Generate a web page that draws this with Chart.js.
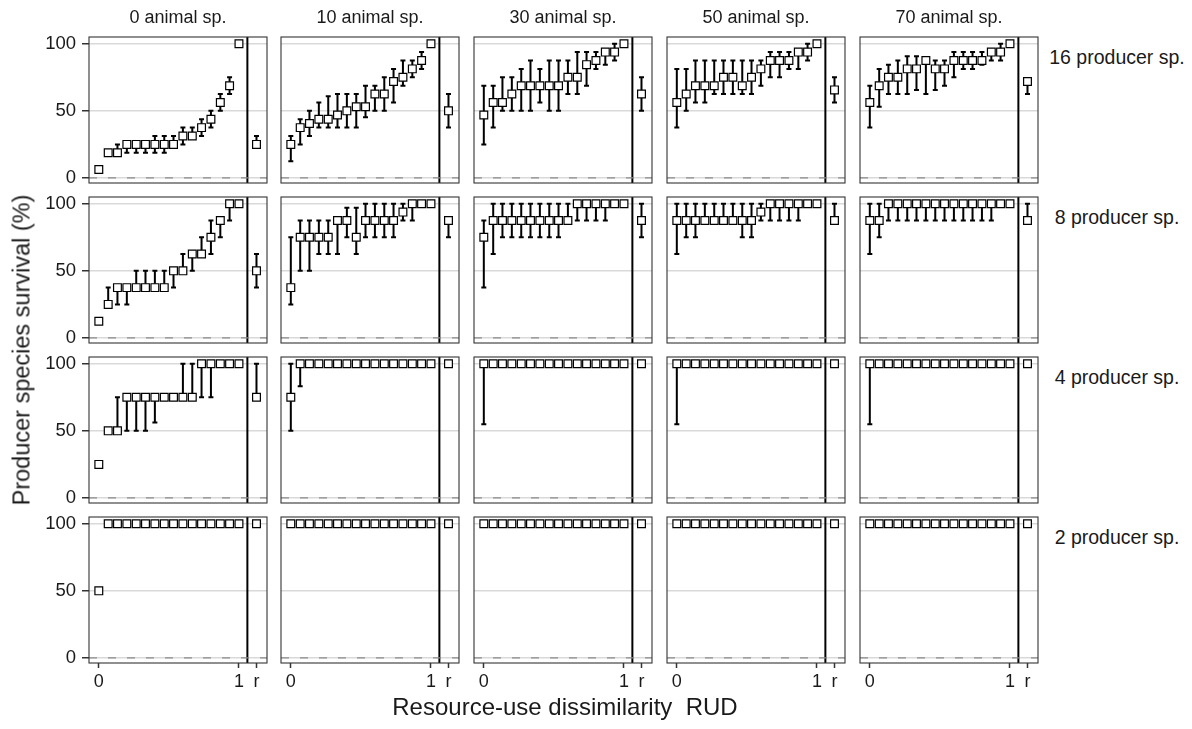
<!DOCTYPE html>
<html>
<head>
<meta charset="utf-8">
<script src="https://cdn.jsdelivr.net/npm/chart.js@4.4.0/dist/chart.umd.min.js"></script>
<style>
  body { margin: 0; background: #fff; }
  #wrap { position: relative; width: 1192px; height: 729px; overflow: hidden;
          font-family: 'Liberation Sans', Arial, sans-serif; color: #1a1a1a; }
  #wrap canvas { position: absolute; }
  .lab { position: absolute; white-space: pre; transform: translate(-50%, -50%); }
</style>
</head>
<body>
<div id="wrap"></div>
<script>
// facet labels
const animalLabels = ['0 animal sp.', '10 animal sp.', '30 animal sp.', '50 animal sp.', '70 animal sp.'];
const producerLabels = ['16 producer sp.', '8 producer sp.', '4 producer sp.', '2 producer sp.'];

// 16 RUD levels, then the random treatment "r"
const rudLevels = [0, 0.067, 0.133, 0.2, 0.267, 0.333, 0.4, 0.467, 0.533, 0.6, 0.667, 0.733, 0.8, 0.867, 0.933, 1, 1.125];
const xTickValues = [0, 1, 1.125];
const xTickText = ['0', '1', 'r'];
const yTickValues = [0, 50, 100];
const splitAt = 1.06;

// survival (%), one array per animal column; last value = r
const mid16 = [
  [6.25, 18.75, 18.75, 25, 25, 25, 25, 25, 25, 31.25, 31.25, 37.5, 43.75, 56.25, 68.75, 100, 25],
  [25, 37.5, 40.6, 43.75, 43.75, 46.9, 50, 53.1, 53.1, 62.5, 62.5, 71.9, 75, 81.25, 87.5, 100, 50],
  [46.9, 56.25, 56.25, 62.5, 68.75, 68.75, 68.75, 68.75, 68.75, 75, 75, 84.4, 87.5, 93.75, 93.75, 100, 62.5],
  [56.25, 62.5, 68.75, 68.75, 68.75, 75, 75, 68.75, 75, 81.25, 87.5, 87.5, 87.5, 93.75, 93.75, 100, 65.6],
  [56.25, 68.75, 75, 75, 81.25, 81.25, 87.5, 81.25, 81.25, 87.5, 87.5, 87.5, 87.5, 93.75, 93.75, 100, 71.9]
];
const lo16 = [
  [null, null, null, 18.75, 18.75, 18.75, 18.75, 18.75, null, 25, null, 31.25, 37.5, 50, 62.5, null, null],
  [12.5, 25, 31.25, 37.5, 37.5, 37.5, 37.5, 37.5, 45.3, 50, 50, 56.25, 68.75, 75, 81.25, null, 37.5],
  [25, 37.5, 50, 50, 50, 50, 56.25, 50, 50, 62.5, 62.5, 68.75, 81.25, 84.4, 87.5, null, 50],
  [37.5, 50, 56.25, 56.25, 62.5, 62.5, 62.5, 62.5, 62.5, 68.75, 75, 75, 81.25, 81.25, 87.5, null, 56.25],
  [37.5, 53.1, 62.5, 62.5, 62.5, 65.6, 62.5, 65.6, 68.75, 75, 81.25, 81.25, 84.4, 87.5, 87.5, null, 62.5]
];
const hi16 = [
  [null, null, 25, null, null, null, 31.25, 31.25, 31.25, 37.5, 37.5, 43.75, 50, 62.5, 75, null, 31.25],
  [31.25, 43.75, 50, 56.25, 60.9, 62.5, 62.5, 62.5, 68.75, 68.75, 75, 81.25, 87.5, 87.5, 93.75, null, 62.5],
  [68.75, 68.75, 75, 75, 81.25, 87.5, 81.25, 87.5, 87.5, 87.5, 93.75, 93.75, 93.75, null, 100, null, 75],
  [81.25, 81.25, 87.5, 87.5, 87.5, 87.5, 87.5, 87.5, 87.5, 87.5, 93.75, 93.75, 93.75, null, 100, null, 75],
  [68.75, 81.25, 84.4, 87.5, 90.6, 90.6, null, 87.5, 87.5, 93.75, 93.75, 93.75, 93.75, null, 100, null, null]
];

const mid8 = [
  [12.5, 25, 37.5, 37.5, 37.5, 37.5, 37.5, 37.5, 50, 50, 62.5, 62.5, 75, 87.5, 100, 100, 50],
  [37.5, 75, 75, 75, 75, 87.5, 87.5, 75, 87.5, 87.5, 87.5, 87.5, 93.75, 100, 100, 100, 87.5],
  [75, 87.5, 87.5, 87.5, 87.5, 87.5, 87.5, 87.5, 87.5, 87.5, 100, 100, 100, 100, 100, 100, 87.5],
  [87.5, 87.5, 87.5, 87.5, 87.5, 87.5, 87.5, 87.5, 87.5, 93.75, 100, 100, 100, 100, 100, 100, 87.5],
  [87.5, 87.5, 100, 100, 100, 100, 100, 100, 100, 100, 100, 100, 100, 100, 100, 100, 87.5]
];
const lo8 = [
  [null, null, 25, 25, null, null, null, null, 37.5, null, 50, null, 62.5, 75, 87.5, null, 37.5],
  [25, 50, 50, 62.5, 62.5, 62.5, 75, 62.5, 75, 75, 75, 75, 87.5, 87.5, null, null, 75],
  [37.5, 62.5, 75, 75, 75, 75, 75, 75, 75, null, 87.5, 87.5, 87.5, 87.5, null, null, 75],
  [62.5, 75, 75, null, null, null, null, 75, 75, 87.5, 87.5, 87.5, 87.5, 87.5, null, null, null],
  [62.5, 75, 87.5, 87.5, 87.5, 87.5, 87.5, 87.5, 87.5, 87.5, 87.5, 87.5, 87.5, 87.5, null, null, null]
];
const hi8 = [
  [null, 37.5, null, null, 50, 50, 50, 50, null, 62.5, null, 75, 87.5, null, null, null, 62.5],
  [75, 87.5, 87.5, 87.5, 87.5, null, 97, 97, 100, 100, 100, 100, 100, null, null, null, null],
  [87.5, 100, 100, 100, 100, 100, 100, 100, 100, 100, null, null, null, null, null, null, 100],
  [100, 100, 100, 100, 100, 100, 100, 100, 100, 100, null, null, null, null, null, null, 100],
  [100, 100, null, null, null, null, null, null, null, null, null, null, null, null, null, null, 100]
];

const mid4 = [
  [25, 50, 50, 75, 75, 75, 75, 75, 75, 75, 75, 100, 100, 100, 100, 100, 75],
  [75, 100, 100, 100, 100, 100, 100, 100, 100, 100, 100, 100, 100, 100, 100, 100, 100],
  [100, 100, 100, 100, 100, 100, 100, 100, 100, 100, 100, 100, 100, 100, 100, 100, 100],
  [100, 100, 100, 100, 100, 100, 100, 100, 100, 100, 100, 100, 100, 100, 100, 100, 100],
  [100, 100, 100, 100, 100, 100, 100, 100, 100, 100, 100, 100, 100, 100, 100, 100, 100]
];
const lo4 = [
  [null, null, null, 50, 50, 50, 56.25, null, null, null, null, 75, 75, null, null, null, null],
  [50, 83.3, null, null, null, null, null, null, null, null, null, null, null, null, null, null, null],
  [55, null, null, null, null, null, null, null, null, null, null, null, null, null, null, null, null],
  [55, null, null, null, null, null, null, null, null, null, null, null, null, null, null, null, null],
  [55, null, null, null, null, null, null, null, null, null, null, null, null, null, null, null, null]
];
const hi4 = [
  [null, null, 75, null, null, null, null, null, null, 100, 100, null, null, null, null, null, 100],
  [100, null, null, null, null, null, null, null, null, null, null, null, null, null, null, null, null],
  [], [], []
];

const mid2 = [
  [50, 100, 100, 100, 100, 100, 100, 100, 100, 100, 100, 100, 100, 100, 100, 100, 100],
  [100, 100, 100, 100, 100, 100, 100, 100, 100, 100, 100, 100, 100, 100, 100, 100, 100],
  [100, 100, 100, 100, 100, 100, 100, 100, 100, 100, 100, 100, 100, 100, 100, 100, 100],
  [100, 100, 100, 100, 100, 100, 100, 100, 100, 100, 100, 100, 100, 100, 100, 100, 100],
  [100, 100, 100, 100, 100, 100, 100, 100, 100, 100, 100, 100, 100, 100, 100, 100, 100]
];
const lo2 = [[], [], [], [], []];
const hi2 = [[], [], [], [], []];

const rowsMid = [mid16, mid8, mid4, mid2];
const rowsLo = [lo16, lo8, lo4, lo2];
const rowsHi = [hi16, hi8, hi4, hi2];

// layout of the grid (pixels)
const colLeft = [89, 281, 474, 667, 860];
const rowTop = [37, 197, 357, 517];
const panelW = 178, panelH = 146;
const padL = 85, padT = 20, padR = 10, padB = 40;
const xMin = -0.07, xMax = 1.2, yMin = -3.75, yMax = 105;

Chart.defaults.font.family = "'Liberation Sans', Arial, sans-serif";

// vertical error bars under the squares
const errorBars = {
  id: 'errorBars',
  beforeDatasetDraw(chart, args) {
    if (args.index !== 2) return;
    const ds = chart.data.datasets[2];
    const {ctx, scales: {x, y}} = chart;
    ctx.save();
    ctx.strokeStyle = '#000';
    ctx.lineWidth = 2;
    ds.data.forEach((p, i) => {
      const lo = ds.lo[i], hi = ds.hi[i];
      if (lo == null && hi == null) return;
      const xp = x.getPixelForValue(p.x);
      const yTop = y.getPixelForValue(hi != null ? hi : p.y);
      const yBot = y.getPixelForValue(lo != null ? lo : p.y);
      ctx.beginPath();
      ctx.moveTo(xp, yBot);
      ctx.lineTo(xp, yTop);
      if (hi != null) { ctx.moveTo(xp - 2.5, yTop); ctx.lineTo(xp + 2.5, yTop); }
      if (lo != null) { ctx.moveTo(xp - 2.5, yBot); ctx.lineTo(xp + 2.5, yBot); }
      ctx.stroke();
    });
    ctx.restore();
  }
};

// panel border
const frame = {
  id: 'frame',
  afterDraw(chart) {
    const {ctx, chartArea: a} = chart;
    ctx.save();
    ctx.strokeStyle = '#333';
    ctx.lineWidth = 1.1;
    ctx.strokeRect(a.left, a.top, a.right - a.left, a.bottom - a.top);
    ctx.restore();
  }
};

const wrap = document.getElementById('wrap');

function addLabel(text, x, y, size, extra) {
  const d = document.createElement('div');
  d.className = 'lab';
  d.textContent = text;
  d.style.left = x + 'px';
  d.style.top = y + 'px';
  d.style.fontSize = size + 'px';
  if (extra) d.style.transform = extra;
  wrap.appendChild(d);
}

function makePanel(r, c) {
  const cv = document.createElement('canvas');
  cv.width = panelW + padL + padR;
  cv.height = panelH + padT + padB;
  cv.style.left = (colLeft[c] - padL) + 'px';
  cv.style.top = (rowTop[r] - padT) + 'px';
  wrap.appendChild(cv);

  const showY = c === 0, showX = r === 3;
  const mid = rowsMid[r][c], lo = rowsLo[r][c], hi = rowsHi[r][c];
  const pts = mid.map((v, i) => ({x: rudLevels[i], y: v}));

  new Chart(cv, {
    type: 'scatter',
    data: {
      datasets: [
        {data: [{x: xMin, y: 0}, {x: xMax, y: 0}], showLine: true, borderColor: '#8c8c8c',
         borderWidth: 1.2, borderDash: [8, 11], pointRadius: 0},
        {data: [{x: splitAt, y: yMin}, {x: splitAt, y: yMax}], showLine: true, borderColor: '#000',
         borderWidth: 2, pointRadius: 0},
        {data: pts, lo: lo, hi: hi, pointStyle: 'rect', pointRadius: 5.5,
         backgroundColor: '#fff', borderColor: '#000', borderWidth: 1.2}
      ]
    },
    options: {
      responsive: false,
      animation: false,
      devicePixelRatio: 1,
      layout: {autoPadding: false, padding: {left: 0, top: padT, right: padR, bottom: 0}},
      plugins: {legend: {display: false}, tooltip: {enabled: false}},
      scales: {
        x: {
          type: 'linear', min: xMin, max: xMax,
          afterFit(s) { s.height = padB; },
          afterBuildTicks(s) { s.ticks = xTickValues.map(v => ({value: v})); },
          border: {display: false},
          grid: {drawOnChartArea: false, drawTicks: true, tickLength: 5, tickWidth: 1.5,
                 tickColor: showX ? '#333' : 'rgba(0,0,0,0)'},
          ticks: {color: showX ? '#1a1a1a' : 'rgba(0,0,0,0)', font: {size: 18}, padding: 3,
                  maxRotation: 0, autoSkip: false,
                  callback: v => xTickText[xTickValues.indexOf(v)]}
        },
        y: {
          type: 'linear', min: yMin, max: yMax,
          afterFit(s) { s.width = padL; },
          afterBuildTicks(s) { s.ticks = yTickValues.map(v => ({value: v})); },
          border: {display: false},
          grid: {color: '#d9d9d9', lineWidth: 1.5, drawTicks: true, tickLength: 7, tickWidth: 1.5,
                 tickColor: showY ? '#333' : 'rgba(0,0,0,0)'},
          ticks: {color: showY ? '#1a1a1a' : 'rgba(0,0,0,0)', font: {size: 18.5}, padding: 6}
        }
      }
    },
    plugins: [errorBars, frame]
  });
}

for (let r = 0; r < 4; r++) {
  for (let c = 0; c < 5; c++) makePanel(r, c);
}

animalLabels.forEach((t, c) => addLabel(t, colLeft[c] + panelW / 2, 17, 18));
producerLabels.forEach((t, r) => addLabel(t, 1117, rowTop[r] + 20, 19.5));
addLabel('Producer species survival (%)', 22, 350, 23.5, 'translate(-50%, -50%) rotate(-90deg)');
addLabel('Resource-use dissimilarity  RUD', 565, 707, 24);
</script>
</body>
</html>
